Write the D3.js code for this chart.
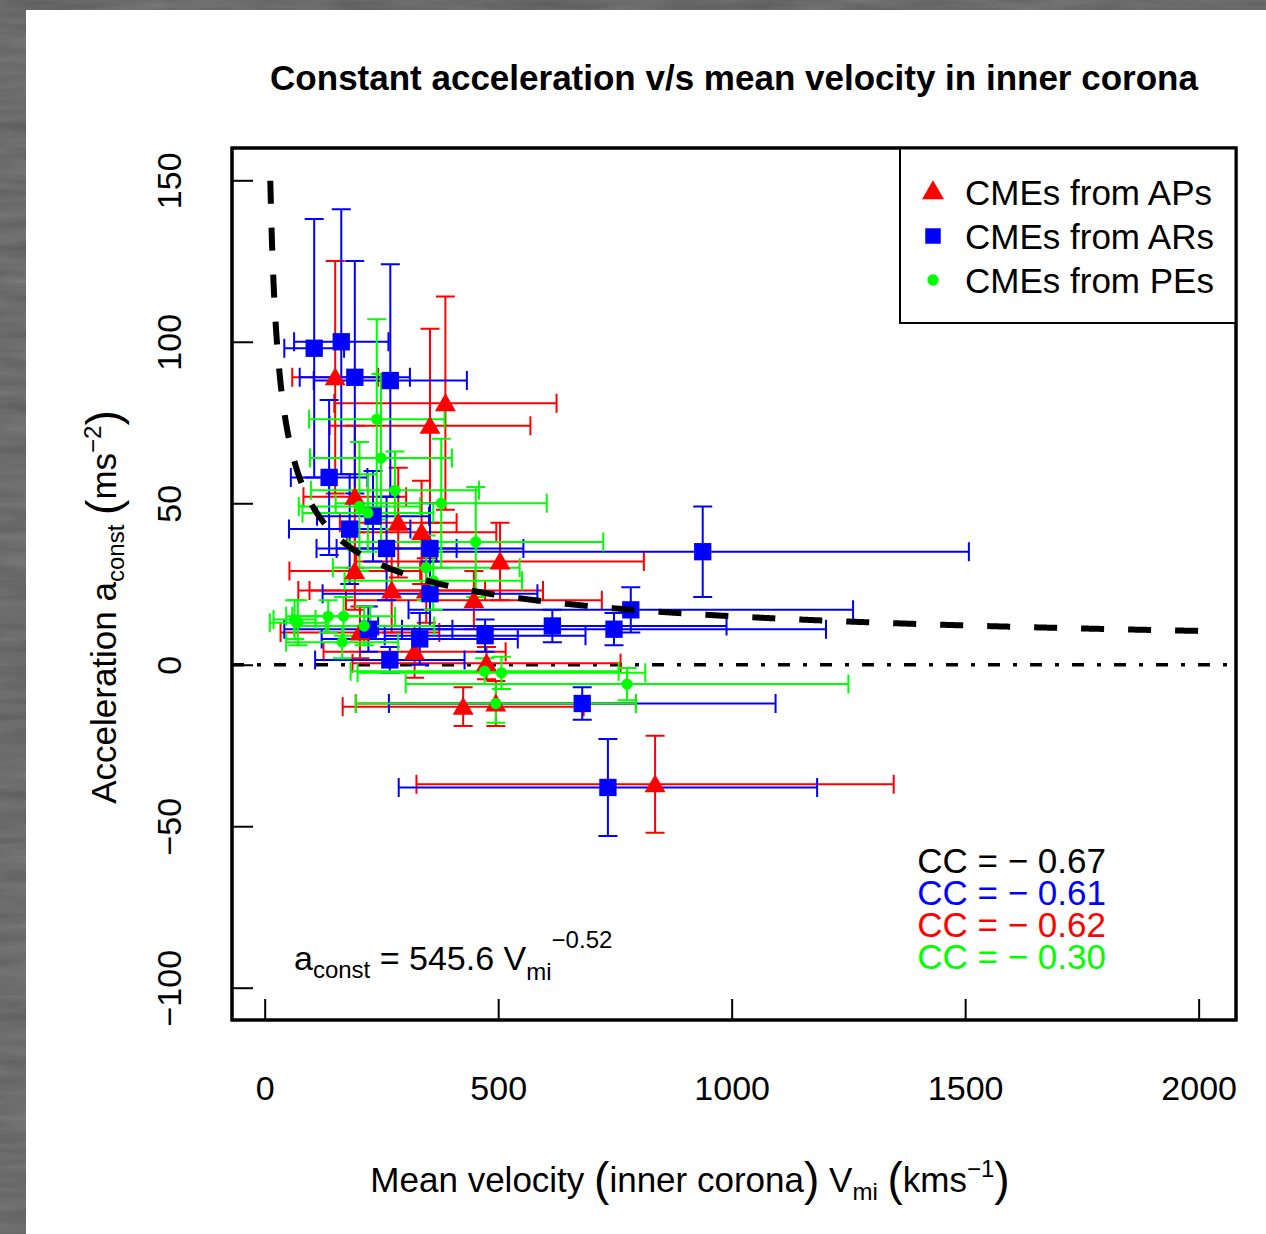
<!DOCTYPE html>
<html>
<head>
<meta charset="utf-8">
<script src="https://cdn.jsdelivr.net/npm/d3@7"></script>
<style>
  html, body { margin: 0; padding: 0; background: #5d5d5d; }
  svg { display: block; }
</style>
</head>
<body>
<script>
// CMEs from active prominences (APs): mean velocity, acceleration and their errors
const apV    = [151, 387, 354, 193, 286, 336, 504, 193, 272, 346, 448, 204, 321, 475, 425, 495, 836];
const apA    = [89, 81, 74, 52, 44, 41, 32, 29, 23, 23, 20, 10, 4, 0.5, -13, -12, -37];
const apVErr = [92, 238, 215, 110, 125, 160, 308, 140, 200, 250, 274, 170, 195, 287, 258, 300, 511];
const apAErr = [36, 33, 30, 22, 17, 16, 12, 12, 13, 10, 9, 8, 8, 5, 6, 7, 15];

// CMEs from active regions (ARs)
const arV    = [106, 164, 193, 269, 138, 182, 232, 261, 354, 354, 222, 332, 472, 616, 748, 784, 938, 268, 680, 735];
const arA    = [98, 100, 89, 88, 58, 42, 46, 36, 36, 22, 11, 8, 9, 12, 11, 17, 35, 1.5, -12, -38];
const arVErr = [64, 101, 118, 164, 82, 130, 120, 150, 200, 230, 180, 210, 215, 373, 454, 476, 570, 160, 414, 448];
const arAErr = [40, 41, 36, 36, 24, 17, 14, 16, 14, 10, 7, 8, 5, 5, 5, 7, 14, 4, 5, 15];

// CMEs from prominence eruptions (PEs)
const peV    = [240, 249, 279, 203, 221, 378, 452, 346, 361, 64, 71, 136, 169, 166, 213, 471, 507, 495, 776];
const peA    = [76, 64, 54, 49, 47, 50, 38, 30, 26, 14, 13, 15, 15, 7, 12, -2, -2.5, -12, -6];
const peVErr = [145, 152, 180, 130, 140, 226, 273, 200, 190, 45, 60, 90, 110, 120, 150, 287, 308, 300, 474];
const peAErr = [31, 26, 12, 20, 12, 20, 17, 10, 9, 6, 7, 5, 6, 5, 6, 4, 5, 6, 5];

// Axis ticks
const xTicks = [0, 500, 1000, 1500, 2000];
const yTicks = [-100, -50, 0, 50, 100, 150];

// Power-law fit a = k * V^p
const fitK = 545.6;
const fitP = -0.52;
const fitVRange = [12, 2000];

// Correlation coefficients
const ccTexts  = ["CC = \u2212 0.67", "CC = \u2212 0.61", "CC = \u2212 0.62", "CC = \u2212 0.30"];
const ccColors = ["#000000", "#0000ff", "#ff0000", "#00ff00"];

const legendLabels = ["CMEs from APs", "CMEs from ARs", "CMEs from PEs"];

const W = 1266, H = 1234;
const plot = { left: 232, right: 1236, top: 148, bottom: 1020 };
const FONT = "'Liberation Sans', Arial, Helvetica, sans-serif";

const svg = d3.select("body").append("svg")
  .attr("width", W).attr("height", H)
  .attr("viewBox", `0 0 ${W} ${H}`)
  .style("font-family", FONT);

// grey textured surround + white sheet
const defs = svg.append("defs");
const noise = defs.append("filter").attr("id", "grain").attr("x", 0).attr("y", 0).attr("width", 1).attr("height", 1);
noise.append("feTurbulence").attr("type", "fractalNoise").attr("baseFrequency", "0.012 0.09").attr("numOctaves", 3).attr("seed", 4);
noise.append("feColorMatrix").attr("type", "matrix")
  .attr("values", "0 0 0 0 0.36  0 0 0 0 0.36  0 0 0 0 0.36  0 0 0 0.55 0");
svg.append("rect").attr("width", W).attr("height", H).attr("fill", "#5a5a5a");
svg.append("rect").attr("width", W).attr("height", H).attr("filter", "url(#grain)").attr("opacity", 0.9);
svg.append("rect").attr("x", 26).attr("y", 10).attr("width", W - 26).attr("height", H - 10).attr("fill", "#ffffff");

defs.append("clipPath").attr("id", "plotClip").append("rect")
  .attr("x", plot.left).attr("y", plot.top)
  .attr("width", plot.right - plot.left).attr("height", plot.bottom - plot.top);

const x = d3.scaleLinear().domain([-70, 2080]).range([plot.left, plot.right]);
const y = d3.scaleLinear().domain([-110, 160]).range([plot.bottom, plot.top]);

// Title
svg.append("text")
  .attr("x", (plot.left + plot.right) / 2).attr("y", 90)
  .attr("text-anchor", "middle")
  .attr("font-size", 35).attr("font-weight", "bold")
  .text("Constant acceleration v/s mean velocity in inner corona");

// Axes (ticks point into the panel)
const xAxis = svg.append("g").attr("transform", `translate(0,${plot.bottom})`)
  .call(d3.axisBottom(x).tickValues(xTicks).tickSizeInner(-21).tickSizeOuter(0).tickPadding(56).tickFormat(d3.format("d")));
xAxis.select(".domain").remove();
xAxis.selectAll("line").attr("stroke", "#000").attr("stroke-width", 2);
xAxis.selectAll("text").attr("font-size", 34).attr("font-family", FONT).attr("fill", "#000");

const yAxis = svg.append("g").attr("transform", `translate(${plot.left},0)`)
  .call(d3.axisLeft(y).tickValues(yTicks).tickSizeInner(-21).tickSizeOuter(0).tickFormat(d => d < 0 ? "\u2212" + Math.abs(d) : String(d)));
yAxis.select(".domain").remove();
yAxis.selectAll("line").attr("stroke", "#000").attr("stroke-width", 2);
yAxis.selectAll("text")
  .attr("font-size", 34).attr("font-family", FONT).attr("fill", "#000")
  .attr("x", null).attr("dy", null).attr("y", 0)
  .attr("text-anchor", "middle")
  .attr("transform", "translate(-51,0) rotate(-90)");

// rich text helper: segments with size and baseline shift
function richText(parent, segs, base) {
  const t = parent.append("text").attr("font-size", base);
  let cur = 0;
  segs.forEach(s => {
    const ts = t.append("tspan").text(s.t);
    if (s.size) ts.attr("font-size", s.size);
    const sh = s.shift || 0;
    if (sh !== cur) { ts.attr("dy", sh - cur); cur = sh; }
  });
  return t;
}

// X axis title
richText(svg, [
  { t: "Mean velocity " },
  { t: "(", size: 46, shift: 3 },
  { t: "inner corona" },
  { t: ")", size: 46, shift: 3 },
  { t: " V" },
  { t: "mi", size: 24, shift: 8 },
  { t: " " },
  { t: "(", size: 46, shift: 3 },
  { t: "kms" },
  { t: "\u22121", size: 24, shift: -15 },
  { t: ")", size: 46, shift: 3 }
], 35).attr("x", 690).attr("y", 1192).attr("text-anchor", "middle");

// Y axis title
richText(svg, [
  { t: "Acceleration a" },
  { t: "const", size: 24, shift: 8 },
  { t: " " },
  { t: "(", size: 46, shift: 3 },
  { t: "ms" },
  { t: "\u22122", size: 24, shift: -15 },
  { t: ")", size: 46, shift: 3 }
], 35).attr("text-anchor", "middle")
  .attr("transform", "translate(116,607) rotate(-90)");

const body = svg.append("g").attr("clip-path", "url(#plotClip)");

// zero reference line (dash-dot)
body.append("line")
  .attr("x1", plot.left).attr("x2", plot.right)
  .attr("y1", y(0)).attr("y2", y(0))
  .attr("stroke", "#000").attr("stroke-width", 3.5)
  .attr("stroke-dasharray", "12 13 4 13");

// groups
const groups = [
  { v: apV, a: apA, ve: apVErr, ae: apAErr, color: "#ff0000", shape: "tri" },
  { v: arV, a: arA, ve: arVErr, ae: arAErr, color: "#0000ff", shape: "sq" },
  { v: peV, a: peA, ve: peVErr, ae: peAErr, color: "#00ff00", shape: "dot" }
];
const CAP = 9.5;

groups.forEach(g => {
  const eb = body.append("g").attr("stroke", g.color).attr("stroke-width", 2).attr("fill", "none");
  g.v.forEach((v, i) => {
    const a = g.a[i], dv = g.ve[i], da = g.ae[i];
    const cx = x(v), cy = y(a);
    const x0 = x(v - dv), x1 = x(v + dv), y0 = y(a - da), y1 = y(a + da);
    eb.append("path").attr("d",
      `M${x0},${cy}H${x1}` +
      `M${x0},${cy - CAP}V${cy + CAP}M${x1},${cy - CAP}V${cy + CAP}` +
      `M${cx},${y0}V${y1}` +
      `M${cx - CAP},${y0}H${cx + CAP}M${cx - CAP},${y1}H${cx + CAP}`);
  });
});

const symPath = {
  tri: d3.symbol().type(d3.symbolTriangle).size(190)(),
  sq: d3.symbol().type(d3.symbolSquare).size(300)(),
  dot: d3.symbol().type(d3.symbolCircle).size(100)()
};

groups.forEach(g => {
  body.append("g").selectAll("path").data(g.v).join("path")
    .attr("d", symPath[g.shape])
    .attr("transform", (v, i) => `translate(${x(v)},${y(g.a[i]) + (g.shape === "tri" ? 2 : 0)})`)
    .attr("fill", g.color);
});

// fitted power law curve
const fitPts = d3.range(fitVRange[0], fitVRange[1] + 1, 2).map(v => [v, fitK * Math.pow(v, fitP)]);
body.append("path")
  .attr("d", d3.line().x(d => x(d[0])).y(d => y(d[1]))(fitPts))
  .attr("fill", "none").attr("stroke", "#000").attr("stroke-width", 6)
  .attr("stroke-dasharray", "23 24");

// frame
svg.append("rect")
  .attr("x", plot.left).attr("y", plot.top)
  .attr("width", plot.right - plot.left).attr("height", plot.bottom - plot.top)
  .attr("fill", "none").attr("stroke", "#000").attr("stroke-width", 3);

// legend
const lg = svg.append("g");
lg.append("rect").attr("x", 900).attr("y", plot.top).attr("width", plot.right - 900).attr("height", 175)
  .attr("fill", "#fff").attr("stroke", "#000").attr("stroke-width", 2);
groups.forEach((g, i) => {
  const cy = 192 + i * 44;
  lg.append("path").attr("d", d3.symbol().type(
      g.shape === "tri" ? d3.symbolTriangle : g.shape === "sq" ? d3.symbolSquare : d3.symbolCircle)
      .size(g.shape === "tri" ? 210 : g.shape === "sq" ? 240 : 100)())
    .attr("transform", `translate(933,${cy + (g.shape === "tri" ? 1 : 0)})`)
    .attr("fill", g.color);
  lg.append("text").attr("x", 965).attr("y", cy + 13).attr("font-size", 35).text(legendLabels[i]);
});
svg.append("rect")
  .attr("x", plot.left).attr("y", plot.top)
  .attr("width", plot.right - plot.left).attr("height", plot.bottom - plot.top)
  .attr("fill", "none").attr("stroke", "#000").attr("stroke-width", 3);

// correlation coefficients
ccTexts.forEach((t, i) => {
  svg.append("text").attr("x", 1106).attr("y", 873 + i * 32)
    .attr("text-anchor", "end").attr("font-size", 35).attr("fill", ccColors[i]).text(t);
});

// fit equation
richText(svg, [
  { t: "a" },
  { t: "const", size: 24, shift: 8 },
  { t: " = 545.6 V" },
  { t: "mi", size: 24, shift: 10 },
  { t: "\u22120.52", size: 24, shift: -22 }
], 34).attr("x", 294).attr("y", 970);
</script>
</body>
</html>
